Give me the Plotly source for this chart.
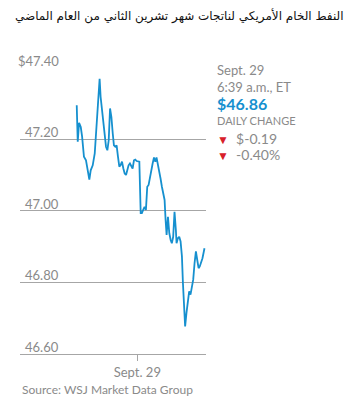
import plotly.graph_objects as go

# ---- data ----
times = [
    "2016-09-28 18:00", "2016-09-28 18:06", "2016-09-28 18:14", "2016-09-28 18:24", "2016-09-28 18:32",
    "2016-09-28 18:43", "2016-09-28 18:55", "2016-09-28 19:03", "2016-09-28 19:15", "2016-09-28 19:23",
    "2016-09-28 19:35", "2016-09-28 19:47", "2016-09-28 19:55", "2016-09-28 20:03", "2016-09-28 20:10",
    "2016-09-28 20:16", "2016-09-28 20:22", "2016-09-28 20:30", "2016-09-28 20:38", "2016-09-28 20:46",
    "2016-09-28 20:54", "2016-09-28 21:02", "2016-09-28 21:10", "2016-09-28 21:18", "2016-09-28 21:26",
    "2016-09-28 21:34", "2016-09-28 21:41", "2016-09-28 21:49", "2016-09-28 21:57", "2016-09-28 22:05",
    "2016-09-28 22:13", "2016-09-28 22:21", "2016-09-28 22:29", "2016-09-28 22:37", "2016-09-28 22:45",
    "2016-09-28 22:53", "2016-09-28 23:00", "2016-09-28 23:08", "2016-09-28 23:16", "2016-09-28 23:24",
    "2016-09-28 23:32", "2016-09-28 23:40", "2016-09-28 23:48", "2016-09-28 23:56", "2016-09-29 00:04",
    "2016-09-29 00:12", "2016-09-29 00:20", "2016-09-29 00:27", "2016-09-29 00:35", "2016-09-29 00:43",
    "2016-09-29 00:51", "2016-09-29 00:59", "2016-09-29 01:07", "2016-09-29 01:15", "2016-09-29 01:23",
    "2016-09-29 01:31", "2016-09-29 01:39", "2016-09-29 01:47", "2016-09-29 01:54", "2016-09-29 02:02",
    "2016-09-29 02:10", "2016-09-29 02:18", "2016-09-29 02:26", "2016-09-29 02:34", "2016-09-29 02:42",
    "2016-09-29 02:48", "2016-09-29 02:54", "2016-09-29 03:02", "2016-09-29 03:10", "2016-09-29 03:18",
    "2016-09-29 03:25", "2016-09-29 03:33", "2016-09-29 03:41", "2016-09-29 03:49", "2016-09-29 03:53",
    "2016-09-29 04:01", "2016-09-29 04:09", "2016-09-29 04:17", "2016-09-29 04:25", "2016-09-29 04:31",
    "2016-09-29 04:37", "2016-09-29 04:44", "2016-09-29 04:52", "2016-09-29 05:00", "2016-09-29 05:08",
    "2016-09-29 05:16", "2016-09-29 05:24", "2016-09-29 05:32", "2016-09-29 05:40", "2016-09-29 05:48",
    "2016-09-29 05:56", "2016-09-29 06:04", "2016-09-29 06:11", "2016-09-29 06:19", "2016-09-29 06:27",
    "2016-09-29 06:39",
]
prices = [
    47.295, 47.193, 47.246, 47.234, 47.207,
    47.151, 47.141, 47.123, 47.087, 47.113,
    47.127, 47.160, 47.216, 47.276, 47.300,
    47.369, 47.318, 47.281, 47.262, 47.207,
    47.179, 47.169, 47.197, 47.286, 47.262,
    47.216, 47.183, 47.179, 47.183, 47.151,
    47.123, 47.128, 47.137, 47.118, 47.104,
    47.100, 47.113, 47.127, 47.132, 47.123,
    47.118, 47.141, 47.143, 47.139, 47.137,
    47.137, 46.993, 46.993, 47.002, 47.011,
    47.002, 47.067, 47.072, 47.095, 47.118,
    47.132, 47.149, 47.137, 47.149, 47.132,
    47.113, 47.090, 47.067, 47.048, 47.030,
    46.974, 46.932, 46.983, 46.937, 46.918,
    46.909, 46.927, 46.997, 46.946, 46.909,
    46.923, 46.927, 46.914, 46.872, 46.797,
    46.723, 46.676, 46.714, 46.742, 46.774,
    46.765, 46.788, 46.807, 46.853, 46.886,
    46.862, 46.839, 46.844, 46.853, 46.867,
    46.895,
]
y_ticks = [46.60, 46.80, 47.00, 47.20, 47.40]
y_tick_labels = ["46.60", "46.80", "47.00", "47.20", "$47.40"]
x_tick_vals = ["2016-09-29 00:00"]
x_tick_labels = ["Sept. 29"]
x_range = ["2016-09-28 12:23", "2016-09-29 06:48"]

title_text = "النفط الخام الأمريكي لناتجات شهر تشرين الثاني من العام الماضي"
info_date = "Sept. 29"
info_time = "6:39 a.m., ET"
last_price = "$46.86"
change_label = "DAILY CHANGE"
change_abs = "$-0.19"
change_pct = "-0.40%"
source = "Source: WSJ Market Data Group"

# ---- style ----
WIN_W, WIN_H = 355, 407
OFF = 8  # default page body margin
W, H = WIN_W - OFF, WIN_H - OFF
PLOT_L, PLOT_R, PLOT_T, PLOT_B = 20, 206, 67, 354  # in window pixels
L, T = PLOT_L - OFF, PLOT_T - OFF
R, B = WIN_W - PLOT_R, WIN_H - PLOT_B
plot_w = PLOT_R - PLOT_L
plot_h = PLOT_B - PLOT_T
FONT = "Lato, 'Open Sans', sans-serif"
GREY = "#8a8a8a"
GRID = "#a6a6a6"
BLUE = "#1690cf"
RED = "#d8202a"


def px_x(p):
    return (p - PLOT_L) / plot_w


def px_y(p):
    return (PLOT_B - p) / plot_h


fig = go.Figure()
fig.add_trace(go.Scatter(
    x=times, y=prices, mode="lines",
    line=dict(color=BLUE, width=1.8), hoverinfo="skip", showlegend=False,
))

annotations = []
for v, t in zip(y_ticks, y_tick_labels):
    annotations.append(dict(
        x=px_x(61), xref="paper", y=v, yref="y", xanchor="right", yanchor="bottom",
        text=t, showarrow=False, font=dict(family=FONT, size=13, color=GREY), yshift=-3,
    ))

annotations.append(dict(
    x=px_x(346), xref="paper", y=px_y(16), yref="paper", xanchor="right", yanchor="middle",
    text=title_text, showarrow=False,
    font=dict(family="'DejaVu Sans', sans-serif", size=12, color="#111111"),
))

info = [
    (info_date, 70, 13, GREY),
    (info_time, 86.5, 13, GREY),
    ("<b>" + last_price + "</b>", 103, 16, BLUE),
    (change_label, 120.5, 11, GREY),
]
for txt, yy, sz, col in info:
    annotations.append(dict(
        x=px_x(215), xref="paper", y=px_y(yy), yref="paper", xanchor="left", yanchor="middle",
        text=txt, showarrow=False, font=dict(family=FONT, size=sz, color=col),
    ))
for txt, yy in [(change_abs, 138), (change_pct, 154.5)]:
    annotations.append(dict(
        x=px_x(215), xref="paper", y=px_y(yy), yref="paper", xanchor="left", yanchor="middle",
        text="<span style='color:%s;font-size:12px'>▼</span>  %s" % (RED, txt), showarrow=False,
        font=dict(family=FONT, size=14, color=GREY),
    ))

annotations.append(dict(
    x=px_x(20), xref="paper", y=px_y(389), yref="paper", xanchor="left", yanchor="middle",
    text=source, showarrow=False, font=dict(family=FONT, size=12, color=GREY),
))

fig.update_layout(
    width=W, height=H,
    margin=dict(l=L, r=R, t=T, b=B),
    paper_bgcolor="white", plot_bgcolor="white",
    showlegend=False,
    annotations=annotations,
    xaxis=dict(
        type="date", range=x_range, tickvals=x_tick_vals, ticktext=x_tick_labels,
        showgrid=False, zeroline=False, showline=True, linecolor=GRID, linewidth=1,
        ticks="outside", ticklen=6, tickcolor=GRID, tickwidth=1,
        tickfont=dict(family=FONT, size=13, color=GREY),
        fixedrange=True,
    ),
    yaxis=dict(
        range=[y_ticks[0] - 0.001, y_ticks[-1] + 0.002], tickvals=y_ticks, showticklabels=False,
        showgrid=True, gridcolor=GRID, gridwidth=1, zeroline=False, showline=False,
        ticks="", fixedrange=True,
    ),
)

fig.write_html("out.html")
